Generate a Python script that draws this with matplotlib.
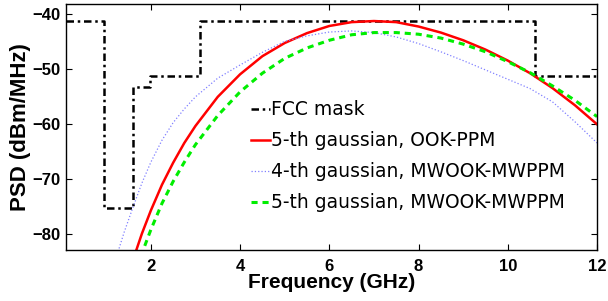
import matplotlib.pyplot as plt

# FCC indoor UWB mask (step)
mask_f = [0.1, 0.96, 0.96, 1.61, 1.61, 1.99, 1.99, 3.1, 3.1, 10.6, 10.6, 12.0]
mask_p = [-41.3, -41.3, -75.3, -75.3, -53.3, -53.3, -51.3, -51.3, -41.3, -41.3, -51.3, -51.3]

# 5-th gaussian, OOK-PPM
red_f = [1.6, 1.8, 2.0, 2.25, 2.5, 2.75, 3.0, 3.5, 4.0, 4.5, 5.0, 5.5, 6.0, 6.5, 7.0,
         7.5, 8.0, 8.5, 9.0, 9.5, 10.0, 10.5, 11.0, 11.5, 12.0]
red_p = [-84.8, -80.0, -75.8, -71.1, -67.1, -63.5, -60.4, -55.1, -51.0, -47.7, -45.3,
         -43.5, -42.2, -41.5, -41.3, -41.5, -42.3, -43.4, -44.8, -46.5, -48.5, -50.8,
         -53.5, -56.6, -60.1]

# 4-th gaussian, MWOOK-MWPPM
blue_f = [1.2, 1.4, 1.6, 1.8, 2.0, 2.25, 2.5, 2.75, 3.0, 3.5, 4.0, 4.5, 5.0, 5.5, 6.0,
          6.5, 7.0, 7.5, 8.0, 8.5, 9.0, 9.5, 10.0, 10.5, 11.0, 11.5, 12.0]
blue_p = [-85.0, -79.8, -75.2, -70.8, -67.0, -63.0, -59.8, -57.3, -55.1, -51.7, -49.3,
          -47.0, -45.0, -44.0, -43.3, -43.1, -43.4, -44.2, -45.4, -46.9, -48.5, -50.2,
          -51.9, -53.6, -56.0, -59.6, -63.5]

# 5-th gaussian, MWOOK-MWPPM
green_f = [1.7, 1.8, 2.0, 2.25, 2.5, 2.75, 3.0, 3.5, 4.0, 4.5, 5.0, 5.5, 6.0, 6.5, 7.0,
           7.5, 8.0, 8.5, 9.0, 9.5, 10.0, 10.5, 11.0, 11.5, 12.0]
green_p = [-86.0, -83.6, -79.3, -74.5, -70.5, -67.0, -63.8, -58.5, -54.2, -50.8, -48.1,
           -46.2, -44.8, -43.8, -43.4, -43.4, -43.7, -44.4, -45.5, -46.9, -48.7, -50.7,
           -53.1, -55.7, -58.7]

fig = plt.figure(figsize=(6.08, 3.01), dpi=100)
ax = fig.add_axes([0.1086, 0.169, 0.8734, 0.8177])

ax.plot(mask_f, mask_p, color='k', lw=1.8, dashes=(3, 1.5, 1, 1.5), label='FCC mask')
ax.plot(red_f, red_p, color='#ff0000', lw=1.8, label='5-th gaussian, OOK-PPM')
ax.plot(blue_f, blue_p, color='#8080ff', lw=0.9, ls=':', label='4-th gaussian, MWOOK-MWPPM')
ax.plot(green_f, green_p, color='#00ee00', lw=2.2, dashes=(2, 1.6), label='5-th gaussian, MWOOK-MWPPM')

ax.set_xlim(0.1, 12)
ax.set_ylim(-83, -38.2)
ax.set_xticks([2, 4, 6, 8, 10, 12])
ax.set_yticks([-80, -70, -60, -50, -40])
ax.tick_params(axis='x', direction='in', top=True, length=4, width=0.8, pad=6.5)
ax.tick_params(axis='y', direction='in', right=True, length=4, width=0.8, pad=4)
for lab in ax.get_xticklabels() + ax.get_yticklabels():
    lab.set_fontfamily('Liberation Sans')
    lab.set_fontweight('bold')
    lab.set_fontsize(12)
for s in ax.spines.values():
    s.set_linewidth(1.0)

ax.set_xlabel('Frequency (GHz)', fontsize=15, fontweight='bold', family='Liberation Sans', labelpad=-1)
ax.set_ylabel('PSD (dBm/MHz)', fontsize=16, fontweight='bold', family='Liberation Sans', labelpad=1)

ax.legend(loc='upper left', bbox_to_anchor=(0.348, 0.608), frameon=False, fontsize=13.5,
          handlelength=1.0, handletextpad=0.1, labelspacing=0.64, borderpad=0, borderaxespad=0)

fig.savefig('out.png', dpi=100)
